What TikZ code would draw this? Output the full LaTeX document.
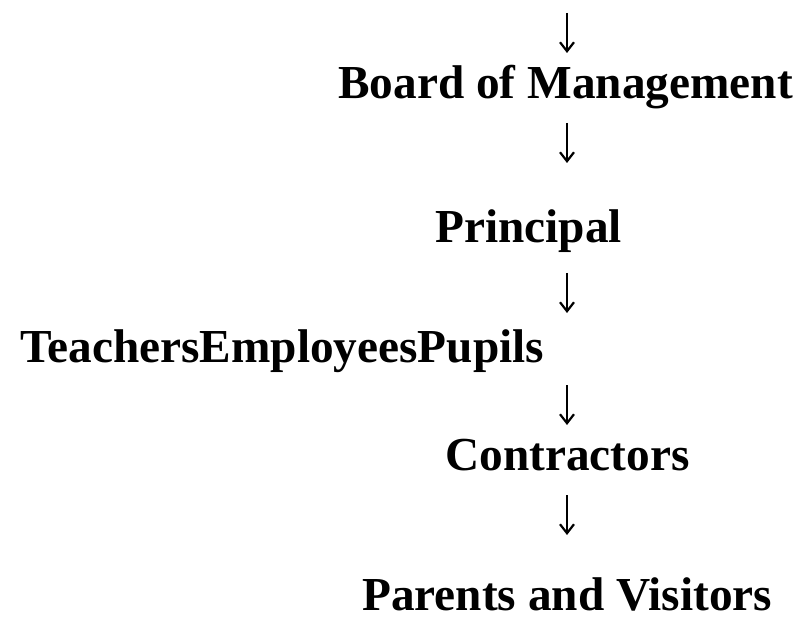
\documentclass[tikz,border=0pt]{standalone}
\usepackage{fontspec}
\setmainfont{Liberation Serif}
\usetikzlibrary{arrows.meta}

\begin{document}
\begin{tikzpicture}[
		x=1pt, y=-1pt
		,lbl/.style={anchor=base west, inner sep=0pt, font=\fontsize{47.3}{50}\selectfont\bfseries}
		,down/.style={line width=2.2pt, -{Straight Barb[length=9pt,width=14pt]}}
	]
		\useasboundingbox (0,0) rectangle (802,617);

		\node[lbl] (board) at (338,99) {Board of Management};
		\node[lbl] (principal) at (435,243) {Principal};
		\node[lbl] (staff) at (20,362) {TeachersEmployeesPupils};
		\node[lbl] (contractors) at (445,470) {Contractors};
		\node[lbl] (visitors) at (362,610) {Parents and Visitors};

		\coordinate (a0) at (567,13);
		\coordinate (b0) at (567,53);
		\coordinate (a1) at (567,123);
		\coordinate (b1) at (567,163);
		\coordinate (a2) at (567,273);
		\coordinate (b2) at (567,313);
		\coordinate (a3) at (567,385);
		\coordinate (b3) at (567,425);
		\coordinate (a4) at (567,495);
		\coordinate (b4) at (567,535);

		\draw[down] (a0) -- (b0);
		\draw[down] (a1) -- (b1);
		\draw[down] (a2) -- (b2);
		\draw[down] (a3) -- (b3);
		\draw[down] (a4) -- (b4);
	\end{tikzpicture}
\end{document}
